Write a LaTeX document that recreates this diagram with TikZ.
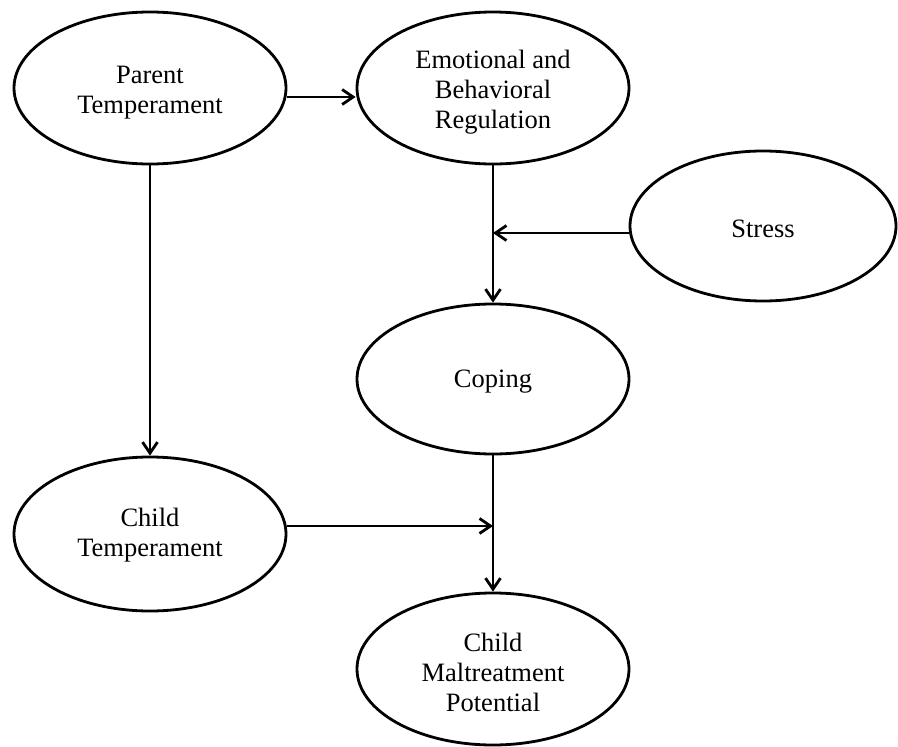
\documentclass[tikz,border=0pt]{standalone}
\usepackage{fontspec}
\setmainfont{Liberation Serif}
\usetikzlibrary{arrows.meta,shapes.geometric}
\begin{document}
\begin{tikzpicture}[x=1pt,y=-1pt,
  oval/.style={draw, ellipse, line width=2.8pt, inner sep=0pt,
    minimum width=272pt, minimum height=152pt},
  txt/.style={inner sep=0pt, align=center, font=\fontsize{26.5}{30}\selectfont},
  arr/.style={draw, line width=2.8pt, -{Straight Barb[length=11pt,width=15pt,line width=2.8pt]}}]
\useasboundingbox (0,0) rectangle (898,747);
\node[oval] (P) at (150,88) {};
\node[oval] (E) at (493,88) {};
\node[oval, minimum width=266pt, minimum height=150pt] (S) at (763,226) {};
\node[oval, minimum height=150pt] (Co) at (493,379) {};
\node[oval, minimum height=154pt] (C) at (150,534) {};
\node[oval] (M) at (493,669) {};
\node[txt] (Pt) at ([yshift=-5pt]P.center) {Parent\\Temperament};
\node[txt] (Et) at ([yshift=-4pt]E.center) {Emotional and\\Behavioral\\Regulation};
\node[txt] (St) at ([yshift=-3pt]S.center) {Stress};
\node[txt] (Cot) at ([yshift=-3pt]Co.center) {Coping};
\node[txt] (Ct) at ([yshift=-1pt]C.center) {Child\\Temperament};
\node[txt] (Mt) at ([yshift=-3pt]M.center) {Child\\Maltreatment\\Potential};
\coordinate (h1) at (0,97);
\coordinate (j1) at (493,233);
\coordinate (j2) at (493,526);
\draw[arr] (P.east |- h1) -- (E.west |- h1);
\draw[arr] (P.south) -- (C.north);
\draw[arr] (E.south) -- (Co.north);
\draw[arr] (S.west |- j1) -- (j1);
\draw[arr] (Co.south) -- (M.north);
\draw[arr] (C.east |- j2) -- (j2);
\end{tikzpicture}
\end{document}
